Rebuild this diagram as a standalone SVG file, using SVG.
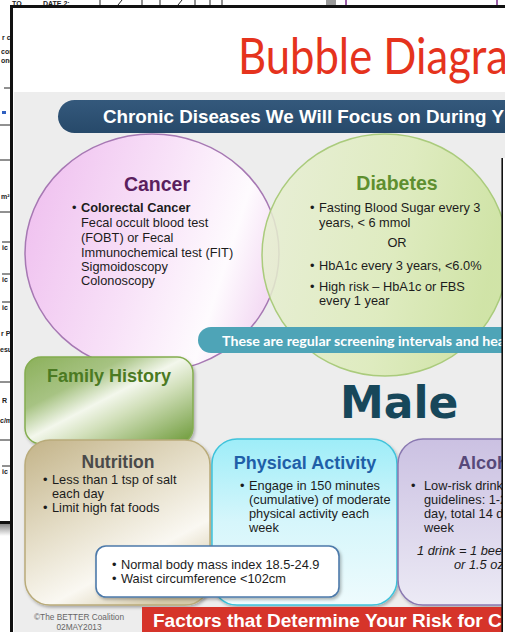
<svg xmlns="http://www.w3.org/2000/svg" width="505" height="632" viewBox="0 0 505 632">
<defs>
<style>
.sans{font-family:"Liberation Sans",Arial,sans-serif;}
.body{font-family:"Liberation Sans",Arial,sans-serif;font-size:12.8px;fill:#1c1c1c;}
.head{font-family:"Liberation Sans",Arial,sans-serif;font-weight:bold;}
.doc{font-family:"Liberation Sans",Arial,sans-serif;font-size:7px;font-weight:bold;fill:#222;}
.docl{stroke:#222;stroke-width:1;fill:none;}
.box{filter:url(#shadow);}
</style>
<linearGradient id="gCancer" x1="0" y1="0.2" x2="1" y2="0.5">
<stop offset="0" stop-color="#efbfef"/>
<stop offset="0.5" stop-color="#f8e2f8"/>
<stop offset="0.82" stop-color="#fefbfe"/>
<stop offset="1" stop-color="#f4dcf4"/>
</linearGradient>
<linearGradient id="gDiab" x1="0" y1="0" x2="1" y2="0.2">
<stop offset="0" stop-color="#e8efd4"/>
<stop offset="0.6" stop-color="#dcebb8"/>
<stop offset="1" stop-color="#cbe29b"/>
</linearGradient>
<linearGradient id="gFam" x1="0" y1="0" x2="1" y2="1">
<stop offset="0" stop-color="#8bb05a"/>
<stop offset="0.3" stop-color="#a7c383"/>
<stop offset="0.48" stop-color="#f3f7ec"/>
<stop offset="0.62" stop-color="#d2e0bb"/>
<stop offset="1" stop-color="#6a9835"/>
</linearGradient>
<linearGradient id="gNut" x1="0.1" y1="0" x2="0.7" y2="1">
<stop offset="0" stop-color="#c6b78e"/>
<stop offset="0.45" stop-color="#e6dfca"/>
<stop offset="0.75" stop-color="#faf8f2"/>
<stop offset="1" stop-color="#d5caa9"/>
</linearGradient>
<linearGradient id="gPhys" x1="0" y1="0" x2="0" y2="1">
<stop offset="0" stop-color="#9eedf8"/>
<stop offset="0.5" stop-color="#d6f6fb"/>
<stop offset="1" stop-color="#eefbfd"/>
</linearGradient>
<linearGradient id="gAlc" x1="0" y1="0" x2="0" y2="1">
<stop offset="0" stop-color="#cbc1e2"/>
<stop offset="1" stop-color="#eceaf5"/>
</linearGradient>
<linearGradient id="gHead" x1="0" y1="0" x2="0" y2="1">
<stop offset="0" stop-color="#34597c"/>
<stop offset="1" stop-color="#27496a"/>
</linearGradient>
<linearGradient id="gShade" x1="0" y1="0" x2="0" y2="1">
<stop offset="0" stop-color="#888"/>
<stop offset="1" stop-color="#fff"/>
</linearGradient>
<filter id="shadow" x="-10%" y="-10%" width="125%" height="130%">
<feDropShadow dx="1.5" dy="2" stdDeviation="1.8" flood-color="#000" flood-opacity="0.28"/>
</filter>
<clipPath id="leftStrip"><rect x="0" y="0" width="10" height="632"/></clipPath>
<clipPath id="topStrip"><rect x="0" y="0" width="505" height="5"/></clipPath>
</defs>

<!-- page behind -->
<rect x="0" y="0" width="505" height="632" fill="#ffffff"/>
<g id="backdoc">
<g clip-path="url(#topStrip)">
<text class="doc" x="12" y="6">TO</text>
<text class="doc" x="43" y="6">DATE 2:</text>
<path class="docl" d="M100,0V5 M142,0V5 M160,0V5 M195,0V5 M210,0V5 M222,0V5 M118,5L122,0 M178,5L182,0"/>
<rect x="326" y="0" width="10" height="5" fill="#9a9a9a"/>
<path d="M346,0V5 M497,0V5" stroke="#7a2a8a" stroke-width="1.5"/>
</g>
<g clip-path="url(#leftStrip)">
<text class="doc" x="2" y="40" font-size="9">r cl</text>
<text class="doc" x="1" y="54" font-size="5">com</text>
<text class="doc" x="1" y="63" font-size="5">ond</text>
<path class="docl" d="M4,88H10 M0,125H10 M0,160H10 M0,212H10 M0,382H10 M0,440H10"/>
<rect x="2" y="111" width="4" height="3" fill="#3060c0"/>
<text class="doc" x="1" y="199">m²</text>
<text class="doc" x="2" y="250">ic</text>
<text class="doc" x="2" y="282">ic</text>
<text class="doc" x="2" y="310">ic</text>
<path class="docl" d="M2,242H10 M2,274H10 M2,302H10 M2,466H10"/>
<text class="doc" x="1" y="336" font-size="9">r P</text>
<text class="doc" x="0" y="352" font-size="5">esu</text>
<text class="doc" x="2" y="403" font-size="6">R</text>
<text class="doc" x="0" y="423">c/m</text>
<text class="doc" x="2" y="474">ic</text>
<rect x="0" y="524" width="10" height="12" fill="url(#gShade)"/>
<rect x="0" y="521" width="10" height="3" fill="#111"/>
</g>
</g>

<!-- slide window -->
<rect x="12" y="7" width="493" height="625" fill="#ffffff"/>
<rect x="14" y="92" width="491" height="540" fill="#ededed"/>

<g id="title">
<text x="238" y="74" font-family="Lato,'Open Sans',sans-serif" font-size="50" fill="#e5331d" textLength="270" lengthAdjust="spacingAndGlyphs">Bubble Diagra</text>
</g>

<g id="cancer">
<ellipse cx="152" cy="253" rx="127" ry="119" fill="url(#gCancer)" stroke="#a678b3" stroke-width="1.5"/>
<text class="head" x="157" y="191" font-size="19.5" fill="#5b1f5e" text-anchor="middle">Cancer</text>
<text class="body" x="72" y="212">•</text>
<text class="body" x="81" y="212" font-weight="bold">Colorectal Cancer</text>
<text class="body" x="81" y="227">Fecal occult blood test</text>
<text class="body" x="81" y="242">(FOBT) or Fecal</text>
<text class="body" x="81" y="257">Immunochemical test (FIT)</text>
<text class="body" x="81" y="271">Sigmoidoscopy</text>
<text class="body" x="81" y="285">Colonoscopy</text>
</g>

<g id="diabetes">
<ellipse cx="385" cy="255" rx="123" ry="121" fill="url(#gDiab)" fill-opacity="0.85" stroke="#aacb7c" stroke-width="1.5"/>
<text class="head" x="397" y="190" font-size="19.5" fill="#5e8f2f" text-anchor="middle">Diabetes</text>
<text class="body" x="310" y="212">•</text>
<text class="body" x="319" y="212">Fasting Blood Sugar every 3</text>
<text class="body" x="319" y="227">years, &lt; 6 mmol</text>
<text class="body" x="397" y="247" text-anchor="middle">OR</text>
<text class="body" x="310" y="270">•</text>
<text class="body" x="319" y="270">HbA1c every 3 years, &lt;6.0%</text>
<text class="body" x="310" y="291">•</text>
<text class="body" x="319" y="291">High risk – HbA1c or FBS</text>
<text class="body" x="319" y="305">every 1 year</text>
</g>

<g id="header">
<rect x="58" y="100" width="470" height="33" rx="16.5" fill="url(#gHead)"/>
<text class="head" x="103" y="123" font-size="18.8" fill="#ffffff">Chronic Diseases We Will Focus on During Y</text>
</g>

<g id="screening">
<rect x="198" y="327" width="330" height="26" rx="13" fill="#4ea4b7"/>
<text x="222" y="346" font-family="Lato,'Open Sans',sans-serif" font-weight="bold" font-size="14" fill="#ffffff" textLength="283" lengthAdjust="spacingAndGlyphs">These are regular screening intervals and hea</text>
</g>

<g id="family">
<rect class="box" x="25" y="357" width="168" height="87" rx="16" fill="url(#gFam)" stroke="#84ad4f" stroke-width="1.5"/>
<text class="head" x="47" y="382" font-size="18" fill="#4b7a22">Family History</text>
</g>

<g id="male">
<text x="340" y="418" font-family="'DejaVu Sans',sans-serif" font-weight="bold" font-size="44" fill="#17475a">Male</text>
</g>

<g id="nutrition">
<rect class="box" x="25" y="440" width="185" height="165" rx="25" fill="url(#gNut)" stroke="#b9ab7a" stroke-width="1.5"/>
<text class="head" x="118" y="467.5" font-size="17.5" fill="#4a4a4a" text-anchor="middle">Nutrition</text>
<text class="body" x="43" y="484">•</text>
<text class="body" x="52" y="484">Less than 1 tsp of salt</text>
<text class="body" x="52" y="498">each day</text>
<text class="body" x="43" y="512">•</text>
<text class="body" x="52" y="512">Limit high fat foods</text>
</g>

<g id="physical">
<rect class="box" x="212" y="439" width="185" height="166" rx="25" fill="url(#gPhys)" stroke="#3fc3db" stroke-width="1.5"/>
<text class="head" x="305" y="469" font-size="18" fill="#1f5fa8" text-anchor="middle">Physical Activity</text>
<text class="body" x="240" y="490">•</text>
<text class="body" x="249" y="490">Engage in 150 minutes</text>
<text class="body" x="249" y="504">(cumulative) of moderate</text>
<text class="body" x="249" y="518">physical activity each</text>
<text class="body" x="249" y="532">week</text>
</g>

<g id="alcohol">
<rect class="box" x="398" y="439" width="140" height="166" rx="25" fill="url(#gAlc)" stroke="#8a79b1" stroke-width="1.5"/>
<text class="head" x="458" y="469" font-size="18" fill="#57497a">Alcoh</text>
<text class="body" x="411" y="490">•</text>
<text class="body" x="424" y="490">Low-risk drink</text>
<text class="body" x="424" y="504">guidelines: 1-2</text>
<text class="body" x="424" y="518">day, total 14 d</text>
<text class="body" x="424" y="532">week</text>
<text class="body" x="417" y="555" font-style="italic">1 drink = 1 beer</text>
<text class="body" x="454" y="569" font-style="italic">or 1.5 oz</text>
</g>

<g id="bmi">
<rect class="box" x="96" y="546" width="243" height="51" rx="10" fill="#ffffff" stroke="#4d7aaa" stroke-width="1.6"/>
<text class="body" x="112" y="569">•</text>
<text class="body" x="121" y="569">Normal body mass index 18.5-24.9</text>
<text class="body" x="112" y="583">•</text>
<text class="body" x="121" y="583">Waist circumference &lt;102cm</text>
</g>

<g id="footer">
<text class="sans" x="79" y="620" font-size="8.3" fill="#666" text-anchor="middle">©The BETTER Coalition</text>
<text class="sans" x="79" y="630" font-size="8.3" fill="#666" text-anchor="middle">02MAY2013</text>
<rect x="142" y="607" width="370" height="30" fill="#d6342a"/>
<text class="head" x="153" y="627" font-size="19" fill="#ffffff">Factors that Determine Your Risk for C</text>
</g>

<!-- window frame -->
<g id="frame">
<rect x="503" y="158" width="2" height="474" fill="#ffffff"/>
<path d="M502.2,158V632" stroke="#111" stroke-width="1.6"/>
<path d="M11.5,632V6.5H505" stroke="#111" stroke-width="3" fill="none"/>
</g>
</svg>
